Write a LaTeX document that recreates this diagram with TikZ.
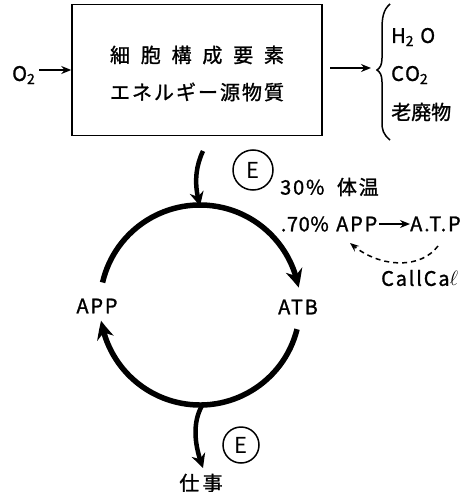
\documentclass[tikz,border=0pt]{standalone}
\usepackage{fontspec}
\setmainfont{Noto Sans CJK JP}
\usetikzlibrary{arrows.meta,bending}
\begin{document}
\begin{tikzpicture}[x=1pt,y=-1pt,
  lbl/.style={inner sep=0pt,font=\fontsize{20}{22}\selectfont\addfontfeature{LetterSpace=9,FakeBold=1.2}},
  jp/.style={inner sep=0pt,font=\fontsize{20}{22}\selectfont\addfontfeature{FakeBold=1.2}},
  thin arrow/.style={line width=1.5pt,-{Stealth[length=10pt,width=8pt]}},
  thick arrow/.style={line width=5.5pt,-{Stealth[length=18pt,width=17pt,bend]}},
  ecirc/.style={draw,circle,line width=1.5pt,inner sep=0pt,font=\fontsize{22}{24}\selectfont}
]
\useasboundingbox (0,0) rectangle (465,492);
\node[draw,line width=1.5pt,minimum width=250pt,minimum height=131pt,inner sep=0pt] (box) at (197,70) {};
\node[jp] (l1) at (197,55) {\makebox[174pt][s]{細\hfill 胞\hfill 構\hfill 成\hfill 要\hfill 素}};
\node[jp] (l2) at (197,92) {\makebox[174pt][s]{エ\hfill ネ\hfill ル\hfill ギ\hfill ー\hfill 源\hfill 物\hfill 質}};
\node[lbl,anchor=west] (o2) at (12,75) {O\textsubscript{2}};
\coordinate (o2a) at (39,70);
\draw[thin arrow] (o2a) -- (box.west |- o2a);
\coordinate (outs) at (330,68);
\coordinate (oute) at (371,68);
\draw[thin arrow] (outs) -- (oute);
\coordinate (br) at (377,70);
\draw[line width=1.5pt] (390,4) .. controls (383,10) and (382,18) .. (382,30) -- (382,58) .. controls (382,65) and (380,68) .. (br)
  .. controls (380,72) and (382,75) .. (382,82) -- (382,122) .. controls (382,130) and (383,134) .. (390,140);
\node[lbl,anchor=west] (h2o) at (391,37) {H\textsubscript{2} O};
\node[lbl,anchor=west] (co2) at (391,75) {CO\textsubscript{2}};
\node[jp,anchor=west] (waste) at (391,112) {老廃物};
% cycle
\coordinate (c) at (200,305);
\draw[thick arrow] (c) ++(193:100) arc[start angle=193,end angle=350,radius=100];
\draw[thick arrow] (c) ++(14:100) arc[start angle=14,end angle=171,radius=100];
\coordinate (ctop) at (200,206);
\coordinate (cbot) at (203,404);
\coordinate (inp) at (203,151);
\coordinate (work) at (203,468);
\draw[line width=4.5pt,-{Stealth[length=14pt,width=14pt]}] (inp) .. controls (195,168) and (194,185) .. (ctop);
\draw[line width=4.5pt,-{Stealth[length=14pt,width=14pt]}] (cbot) .. controls (193,420) and (193,442) .. (work);
\node[lbl] (atb) at (298,307) {ATB};
\node[lbl] (app) at (97,306) {APP};
\node[ecirc,minimum size=40pt] (e1) at (253,170) {E};
\node[ecirc,minimum size=36pt] (e2) at (241,445) {E};
\node[jp] (work t) at (201,483) {仕\,事};
\node[lbl,anchor=west] (temp) at (280,187) {30\%\ \ 体温};
\node[lbl,anchor=east,font=\fontsize{20}{22}\selectfont\addfontfeature{LetterSpace=3,FakeBold=1.2}] (p70) at (329,224) {.70\%};
\node[lbl,anchor=west] (app2) at (336,224) {APP};
\node[lbl,anchor=west] (atp) at (410,224) {A.T.P};
\draw[thin arrow] (app2.east) ++(2,0) -- (atp.west);
\node[lbl,anchor=west] (cal) at (381,278) {CallCa$\ell$};
\draw[line width=1.5pt,dash pattern=on 5pt off 4pt,-{Stealth[length=9pt,width=7pt]}] (438,246) .. controls (420,270) and (378,268) .. (350,243);
\end{tikzpicture}
\end{document}
